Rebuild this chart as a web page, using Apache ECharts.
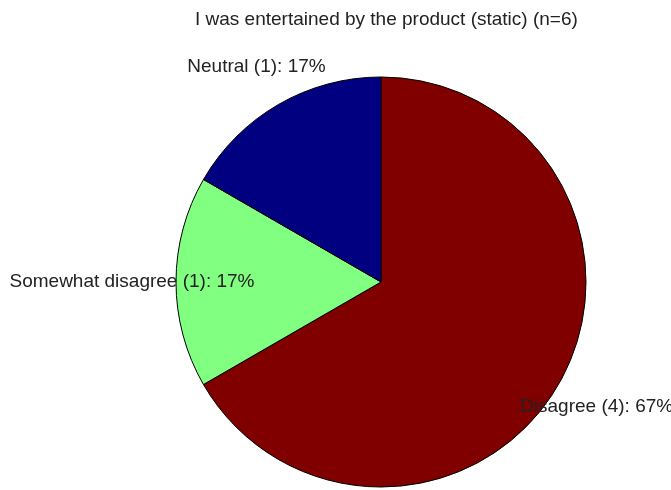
<!DOCTYPE html>
<html>
<head>
<meta charset="utf-8">
<script src="https://cdn.jsdelivr.net/npm/echarts@6/dist/echarts.min.js"></script>
<style>
  html, body { margin: 0; padding: 0; background: #fff; }
</style>
</head>
<body>
<div id="main" style="width: 671px; height: 490px;"></div>
<script>
// data
var categories = ['Disagree', 'Somewhat disagree', 'Neutral'];
var counts = [4, 1, 1];
var sliceColors = ['#800000', '#80ff80', '#000080'];
var titleText = 'I was entertained by the product (static) (n=6)';

var total = counts.reduce(function (a, b) { return a + b; }, 0);
var pieData = categories.map(function (name, i) {
  return { name: name, value: counts[i], itemStyle: { color: sliceColors[i] } };
});

var R = 205;
var fontFam = '"Liberation Sans", Arial, Helvetica, sans-serif';

var myChart = echarts.init(document.getElementById('main'));
var option = {
  animation: false,
  backgroundColor: '#fff',
  title: {
    text: titleText,
    left: 190,
    top: 5,
    textStyle: {
      color: '#222',
      fontSize: 19,
      fontWeight: 'normal',
      fontFamily: fontFam
    }
  },
  series: [
    {
      type: 'pie',
      center: [381, 282],
      radius: R,
      startAngle: 90,
      clockwise: true,
      silent: true,
      emphasis: { disabled: true },
      label: { show: false },
      labelLine: { show: false },
      itemStyle: { borderColor: '#000', borderWidth: 1 },
      data: pieData
    },
    {
      // transparent ring, only used to place the labels at 1.2 * radius
      type: 'pie',
      center: [381, 282],
      radius: [R * 1.1, R * 1.3],
      startAngle: 90,
      clockwise: true,
      silent: true,
      emphasis: { disabled: true },
      itemStyle: { color: 'rgba(0,0,0,0)', borderWidth: 0 },
      labelLine: { show: false },
      label: {
        show: true,
        position: 'inside',
        rotate: 0,
        color: '#222',
        fontSize: 19,
        fontFamily: fontFam,
        formatter: function (p) {
          return p.name + ' (' + p.value + '): ' + Math.round(p.value / total * 100) + '%';
        }
      },
      data: categories.map(function (name, i) {
        return { name: name, value: counts[i] };
      })
    }
  ]
};
myChart.setOption(option);
</script>
</body>
</html>
